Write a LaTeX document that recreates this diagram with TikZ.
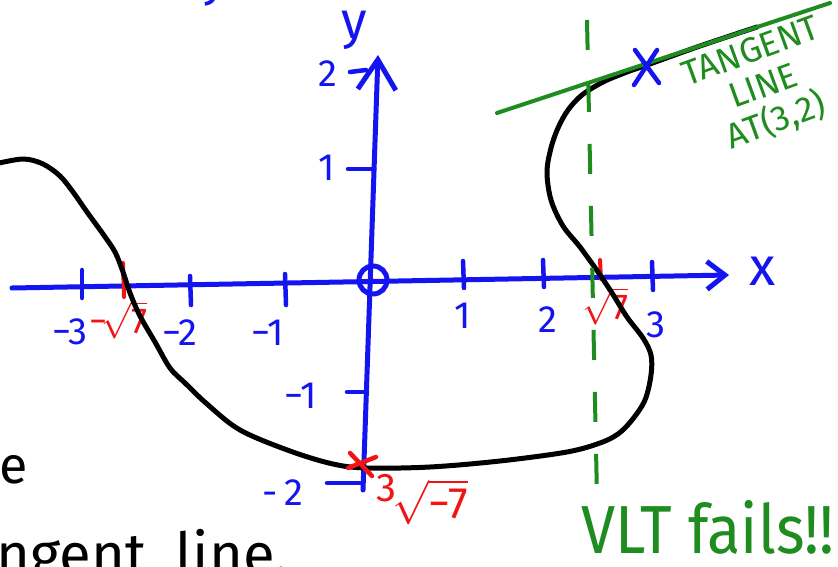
\RequirePackage{fix-cm}
\documentclass[tikz,border=0pt]{standalone}
\usepackage{amsmath}
\usepackage{fontspec}
\setmainfont{Fira Sans}
\usetikzlibrary{arrows.meta}
\definecolor{penblue}{RGB}{20,20,240}
\definecolor{penred}{RGB}{240,20,20}
\definecolor{pengreen}{RGB}{30,140,30}
\newcommand{\fs}[1]{\fontsize{#1}{#1}\selectfont}
\tikzset{
  axisline/.style={penblue, line width=5pt, line cap=round, line join=round},
  tickline/.style={penblue, line width=4.5pt, line cap=round},
  redtick/.style={penred, line width=4pt, line cap=round},
  curveline/.style={black, line width=5pt, line cap=round, line join=round},
  greenline/.style={pengreen, line width=4pt, line cap=round},
  vltline/.style={pengreen, line width=4pt, dash pattern=on 30pt off 32pt},
  bluelab/.style={text=penblue, inner sep=0pt, font=\fs{38}},
  redlab/.style={text=penred, inner sep=0pt, font=\fs{36}},
  greenlab/.style={text=pengreen, inner sep=0pt},
  blacklab/.style={text=black, inner sep=0pt},
  crossmark/.style={line width=4.5pt, line cap=round}
}
\begin{document}
\begin{tikzpicture}[x=1pt, y=-1pt]
\useasboundingbox (0,0) rectangle (838,567);
\fill[white] (0,0) rectangle (838,567);
\clip (0,0) rectangle (838,567);

% axes
\coordinate (xl) at (12,288);
\coordinate (xr) at (729,275);
\coordinate (yb) at (363,490);
\coordinate (yt) at (378,55);
\draw[axisline, -{Straight Barb[length=18pt,width=28pt]}] (xl) -- (xr);
\draw[axisline, -{Straight Barb[length=30pt,width=38pt]}] (yb) -- (yt);
\draw[axisline] (373,280) circle (14);

% x ticks
\draw[tickline] (82,270) -- (82,298);
\draw[tickline] (190,276) -- (191,305);
\draw[tickline] (285,274) -- (286,305);
\draw[tickline] (463,261) -- (464,288);
\draw[tickline] (543,260) -- (544,287);
\draw[tickline] (652,262) -- (653,290);
% y ticks
\draw[tickline] (350,72) -- (366,70);
\draw[tickline] (348,169) -- (374,169);
\draw[tickline] (347,392) -- (367,392);
\draw[tickline] (327,483) -- (363,483);
% red ticks
\draw[redtick] (123,263) -- (124,297);
\draw[redtick] (600,260) -- (601,279);

% labels
\node[bluelab, font=\fs{54}] (xlab) at (763,271) {x};
\node[bluelab, font=\fs{52}] (ylab) at (354,30) {y};
\node[bluelab] (xm3) at (70,332) {−3};
\node[bluelab] (xm2) at (180,333) {−2};
\node[bluelab] (xm1) at (268,333) {−1};
\node[bluelab] (xp1) at (463,316) {1};
\node[bluelab] (xp2) at (548,320) {2};
\node[bluelab] (xp3) at (656,325) {3};
\node[bluelab] (yp2) at (328,74) {2};
\node[bluelab] (yp1) at (327,168) {1};
\node[bluelab] (ym1) at (301,396) {−1};
\node[bluelab] (ym2) at (283,493) {-\,2};
\node[redlab] (rm7) at (118,320) {\mbox{−}$\!\sqrt{\mbox{7}}$};
\node[redlab] (rp7) at (605,306) {$\sqrt{\mbox{7}}$};
\node[redlab, font=\fs{40}] (c3) at (386,488) {3};
\node[redlab, font=\fs{44}] (c7) at (430,502) {$\sqrt{\mbox{−7}}$};

% curve
\draw[curveline] plot[smooth, tension=0.55] coordinates {
 (-5,164) (23,159) (43,164) (60,176) (73,192) (87,212) (103,234) (115,252)
 (123,272) (130,293) (140,316) (155,342) (170,368) (185,383) (207,404)
 (240,430) (290,451) (333,464) (367,468) (430,467) (500,461) (567,452)
 (600,443) (618,434) (632,420) (645,400) (651,375) (651,355) (643,338)
 (627,317) (612,293) (598,272) (580,247) (563,226) (551,200) (547,172)
 (551,148) (558,128) (568,110) (582,95) (603,82) (627,72) (647,65)
 (700,46) (757,27)};

% vertical line test (dashed)
\coordinate (vt) at (587,20);
\coordinate (vb) at (597,497);
\draw[vltline] (vt) -- (vb);

% tangent line
\coordinate (tl) at (497,113);
\coordinate (tr) at (830,3);
\draw[greenline] (tl) -- (tr);

% marks
\draw[crossmark, penblue] (635,50) -- (659,83) (657,50) -- (634,85);
\draw[crossmark, penred] (350,453) -- (372,476) (376,457) -- (348,468);

% tangent text
\node[greenlab, rotate=20, align=center, font={\fontsize{35}{37}\selectfont}]
  (tangtext) at (764,88) {TANGENT\\LINE\\AT(3,2)};

% fragments of surrounding handwriting
\node[blacklab, anchor=base east, font=\fs{52}] (frag1) at (28,483) {ne};
\node[blacklab, anchor=base west, font=\fs{58}] (frag2) at (-4,574) {ngent\hspace{30pt}line.};
\node[bluelab, anchor=base, font=\fs{50}] (frag3) at (215,-4) {y};
\node[greenlab, anchor=base west, font=\fs{68}, xscale=0.9] (vlt) at (581,553) {VLT fails!!};
\end{tikzpicture}
\end{document}
